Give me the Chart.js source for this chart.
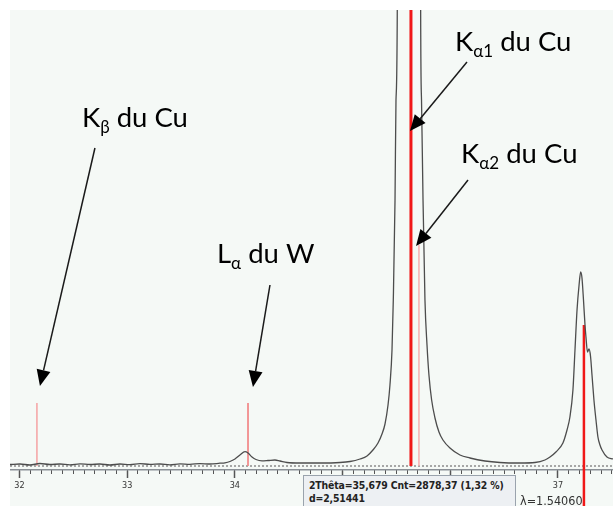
<!DOCTYPE html>
<html>
<head>
<meta charset="utf-8">
<script src="https://cdn.jsdelivr.net/npm/chart.js@4.4.1/dist/chart.umd.min.js"></script>
<style>
html, body { margin: 0; padding: 0; background: #fff; }
body { width: 613px; height: 506px; position: relative; overflow: hidden; }
#wrap { position: absolute; left: 10px; top: 10px; width: 603px; height: 496px; background: #f5f9f6; }
#info { position: absolute; left: 303px; top: 475px; width: 213px; height: 40px; box-sizing: border-box;
  background: #edf0f3; border: 1px solid #9aa3ad; padding: 3px 5px; white-space: nowrap;
  font: bold 10.4px "DejaVu Sans Condensed", "DejaVu Sans", sans-serif; letter-spacing: -0.15px; line-height: 13px; color: #222; }
#wl { position: absolute; left: 520px; top: 493px; font: 12.5px "DejaVu Sans Condensed", "DejaVu Sans", sans-serif; color: #333; }
</style>
</head>
<body>
<div id="wrap"><canvas id="xrd"></canvas></div>
<div id="wl">λ=1.54060</div>
<div id="info">2Thêta=35,679 Cnt=2878,37 (1,32 %)<br>d=2,51441</div>
<script>
// diffractogram (2theta in degrees, counts)
var theta = [31.912, 32.005, 32.097, 32.190, 32.283, 32.376, 32.469, 32.562, 32.655, 32.747,
  32.840, 32.933, 33.026, 33.119, 33.212, 33.305, 33.397, 33.490, 33.583, 33.676,
  33.769, 33.862, 33.908, 33.954, 34.001, 34.047, 34.094, 34.122, 34.159, 34.196,
  34.252, 34.307, 34.372, 34.419, 34.484, 34.604, 34.790, 34.976, 35.069, 35.162,
  35.227, 35.282, 35.329, 35.366, 35.394, 35.422, 35.440, 35.459, 35.471, 35.487,
  35.496, 35.508, 35.533, 35.617, 35.700, 35.725, 35.733, 35.747, 35.765, 35.784,
  35.802, 35.827, 35.858, 35.895, 35.932, 35.997, 36.090, 36.183, 36.322, 36.461,
  36.647, 36.786, 36.879, 36.926, 36.981, 37.046, 37.084, 37.111, 37.139, 37.158,
  37.177, 37.196, 37.211, 37.223, 37.237, 37.251, 37.260, 37.274, 37.288, 37.302,
  37.316, 37.334, 37.353, 37.371, 37.390, 37.409, 37.455, 37.511];
var counts = [55, 60, 50, 65, 55, 60, 52, 62, 55, 60,
  50, 60, 54, 64, 56, 60, 52, 62, 57, 64,
  60, 68, 72, 85, 110, 150, 183, 170, 130, 105,
  92, 95, 100, 90, 75, 70, 70, 75, 85, 110,
  140, 200, 270, 360, 460, 650, 850, 1200, 1700, 2700,
  3700, 4600, 30000, 60000, 30000, 4600, 3700, 2700, 1700, 1250,
  950, 700, 520, 380, 300, 220, 150, 120, 90, 75,
  70, 75, 100, 130, 180, 270, 400, 530, 800, 1200,
  1600, 1850, 1980, 1920, 1700, 1450, 1330, 1180, 1210, 1140,
  950, 700, 500, 330, 250, 200, 130, 110];

// reference lines
var lineNames = ['Kβ du Cu', 'Lα du W', 'Kα1 du Cu', 'Kα2 du Cu', 'pic 37,24'];
var linePos = [32.162, 34.122, 35.635, 35.709, 37.241];
var lineTop = [670, 670, 60000, 2250, 1450];
var lineBottom = [40, 40, 40, 40, -360];
var lineColors = ['#f5a3a3', '#f28c8c', '#f01818', '#f5b0b0', '#f01818'];
var lineWidths = [1.5, 1.8, 3, 1.5, 2.5];

var baselineCnt = 40;
var xMin = 31.912, xMax = 37.511;

// labels with arrows: letter, subscript, rest, arrow tip (data), arrow start and text (px from tip)
var notes = [
  { k: 'K', sub: 'β', rest: ' du Cu', tip: [32.190, 840], from: [55, -238], text: [42, -259] },
  { k: 'L', sub: 'α', rest: ' du W', tip: [34.168, 830], from: [17, -102], text: [-36, -124] },
  { k: 'K', sub: 'α1', rest: ' du Cu', tip: [35.626, 3390], from: [57, -69], text: [45, -80] },
  { k: 'K', sub: 'α2', rest: ' du Cu', tip: [35.682, 2240], from: [52, -66], text: [45, -83] }
];

var spectrum = theta.map(function (t, i) { return { x: t, y: counts[i] }; });

var datasets = [{
  label: 'Diffractogramme',
  data: spectrum,
  borderColor: '#4d4d4d',
  borderWidth: 1.3,
  pointRadius: 0,
  cubicInterpolationMode: 'monotone',
  order: 0
}];
linePos.forEach(function (p, i) {
  datasets.push({
    label: lineNames[i],
    data: [{ x: p, y: lineBottom[i] }, { x: p, y: lineTop[i] }],
    borderColor: lineColors[i],
    borderWidth: lineWidths[i],
    pointRadius: 0,
    clip: i == 4 ? { left: 5, top: 0, right: 5, bottom: 40 } : 1,
    order: 2
  });
});
datasets.push({
  label: 'base',
  data: [{ x: xMin, y: baselineCnt }, { x: xMax, y: baselineCnt }],
  borderColor: '#8c8c8c',
  borderWidth: 1.5,
  borderDash: [2, 2],
  pointRadius: 0,
  order: 3
});

var arrowPlugin = {
  id: 'arrows',
  afterDatasetsDraw: function (chart) {
    var ctx = chart.ctx, xs = chart.scales.x, ys = chart.scales.y;
    ctx.save();
    notes.forEach(function (n) {
      var tx = xs.getPixelForValue(n.tip[0]), ty = ys.getPixelForValue(n.tip[1]);
      var sx = tx + n.from[0], sy = ty + n.from[1];
      var ang = Math.atan2(ty - sy, tx - sx);
      var hl = 16, hw = 7;
      var bx = tx - hl * Math.cos(ang), by = ty - hl * Math.sin(ang);
      ctx.strokeStyle = '#1a1a1a';
      ctx.fillStyle = '#000';
      ctx.lineWidth = 1.5;
      ctx.beginPath();
      ctx.moveTo(sx, sy);
      ctx.lineTo(bx, by);
      ctx.stroke();
      ctx.beginPath();
      ctx.moveTo(tx, ty);
      ctx.lineTo(bx + hw * Math.sin(ang), by - hw * Math.cos(ang));
      ctx.lineTo(bx - hw * Math.sin(ang), by + hw * Math.cos(ang));
      ctx.closePath();
      ctx.fill();

      var x = tx + n.text[0], y = ty + n.text[1];
      ctx.textBaseline = 'alphabetic';
      ctx.textAlign = 'left';
      ctx.font = '27.5px Lato';
      ctx.fillText(n.k, x, y);
      x += ctx.measureText(n.k).width;
      ctx.font = '17px Lato';
      ctx.fillText(n.sub, x, y + 6);
      x += ctx.measureText(n.sub).width;
      ctx.font = '27.5px Lato';
      ctx.fillText(n.rest, x, y);
    });
    ctx.restore();
  }
};

new Chart(document.getElementById('xrd'), {
  type: 'line',
  data: { datasets: datasets },
  options: {
    responsive: true,
    maintainAspectRatio: false,
    animation: false,
    layout: { padding: 0 },
    plugins: { legend: { display: false }, tooltip: { enabled: false } },
    scales: {
      x: {
        type: 'linear',
        position: 'bottom',
        min: xMin,
        max: xMax,
        afterFit: function (s) { s.height = 36; },
        ticks: {
          stepSize: 1,
          includeBounds: false,
          padding: 2,
          color: '#333',
          font: { family: 'DejaVu Sans Condensed', size: 9 },
          callback: function (v) { return Math.round(v); }
        },
        grid: { drawOnChartArea: false, tickLength: 8, tickColor: '#555', tickWidth: 1.5 },
        border: { color: '#8a9096', width: 1.5 }
      },
      xMinor: {
        type: 'linear',
        axis: 'x',
        position: { y: 0 },
        min: xMin,
        max: xMax,
        ticks: { stepSize: 0.1, includeBounds: false, display: false },
        grid: { drawOnChartArea: false, tickLength: 4, tickColor: '#555', tickWidth: 1 },
        border: { display: false }
      },
      y: {
        type: 'linear',
        display: false,
        min: 0,
        max: 4600
      }
    }
  },
  plugins: [arrowPlugin]
});
</script>
</body>
</html>
